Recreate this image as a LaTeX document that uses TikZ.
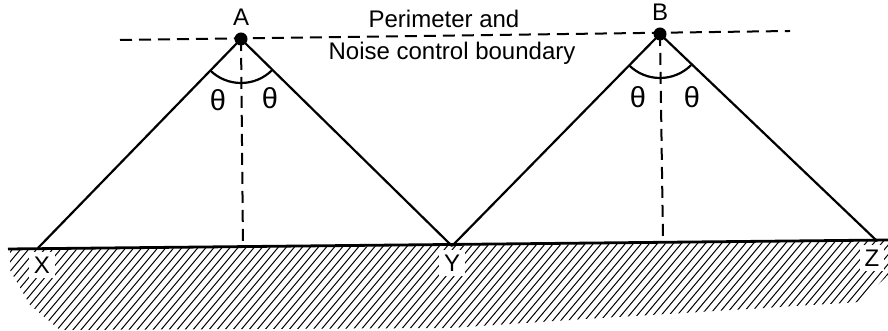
\documentclass[tikz,border=0pt]{standalone}
\usepackage{fontspec}
\setmainfont{Liberation Sans}
\usetikzlibrary{positioning}
\tikzstyle{source} = [
    circle,
    fill=black,
    inner sep=0pt,
    minimum size=13pt
]
\tikzstyle{lbl} = [
    font=\fontsize{24}{28}\selectfont,
    inner sep=2pt
]
\tikzstyle{anglelbl} = [
    font=\fontsize{29}{33}\selectfont,
    inner sep=2pt
]
\tikzstyle{groundlbl} = [
    lbl,
    fill=white,
    inner sep=5pt
]
\tikzstyle{ray} = [line width=2.2pt]
\tikzstyle{boundary} = [line width=2pt, dash pattern=on 12pt off 7pt]
\tikzstyle{ground} = [line width=2.8pt]
\tikzstyle{hatch} = [line width=1pt]

\begin{document}
\begin{tikzpicture}[x=1pt, y=1pt, node distance=5pt]
\useasboundingbox (0,0) rectangle (888,331);

\coordinate (G1) at (8,82);
\coordinate (G2) at (888,91);
\coordinate (X) at (38,83);
\coordinate (Y) at (452,85);
\coordinate (Z) at (877,90);
\coordinate (FA) at (243,84);
\coordinate (FB) at (663,90);
\coordinate (BL1) at (120,291);
\coordinate (BL2) at (790,300);

\begin{scope}
\clip (10,81) -- (888,90) -- (888,56) -- (860,29) -- (700,19) -- (600,13)
    -- (450,3) -- (60,1) -- (30,26) -- (10,61) -- cycle;
\foreach \i in {-80,-72,...,888}
    \draw [hatch] (\i,0) -- ++(50:130);
\end{scope}

\draw [ground] (G1) -- (G2);
\draw [boundary] (BL1) -- (BL2);

\node (A) [source] at (241,292) {};
\node (B) [source] at (660,297) {};

\node (labA) [lbl, above=of A] {A};
\node (labB) [lbl, above=of B] {B};

\node (perim) [lbl, anchor=base] at (444,303) {Perimeter and};
\node (noise) [lbl, anchor=base] at (452,271) {Noise control boundary};

\draw [ray] (A.center) -- (X);
\draw [ray] (A.center) -- (Y);
\draw [ray] (B.center) -- (Y);
\draw [ray] (B.center) -- (Z);

\draw [boundary] (A.center) -- (FA);
\draw [boundary] (B.center) -- (FB);

\draw [ray] (A.center) ++(225:44) arc [start angle=225, end angle=315, radius=44];
\draw [ray] (B.center) ++(225:44) arc [start angle=225, end angle=315, radius=44];

\node (thetaA1) [anglelbl] at (218,231) {θ};
\node (thetaA2) [anglelbl] at (270,233) {θ};
\node (thetaB1) [anglelbl] at (638,234) {θ};
\node (thetaB2) [anglelbl] at (692,234) {θ};

\node (labX) [groundlbl] at (42,66) {X};
\node (labY) [groundlbl] at (452,68) {Y};
\node (labZ) [groundlbl] at (872,73) {Z};

\end{tikzpicture}
\end{document}
